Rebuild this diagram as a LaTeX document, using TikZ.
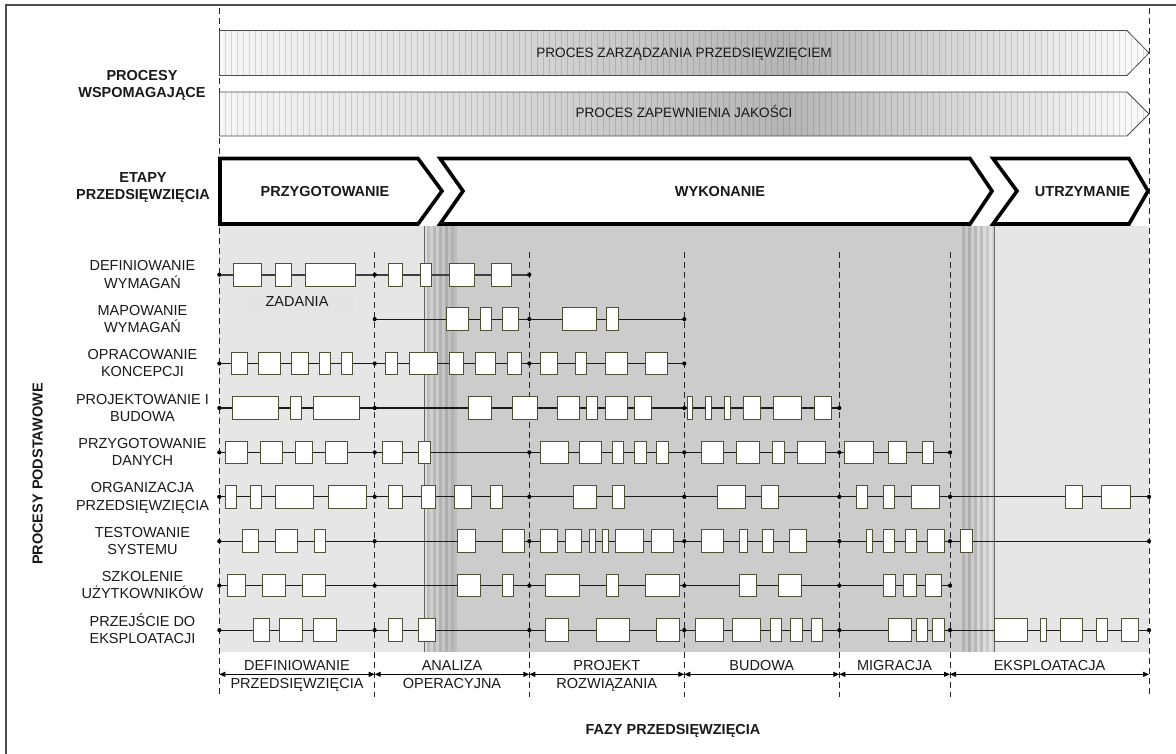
\documentclass[tikz,border=0pt]{standalone}
\usepackage{fontspec}
\setmainfont{Liberation Sans}
\usetikzlibrary{arrows.meta}
\definecolor{lightbg}{gray}{0.902}
\definecolor{darkbg}{gray}{0.80}
\definecolor{zadbg}{gray}{0.893}
\definecolor{boxedge}{RGB}{80,80,50}
\definecolor{txt}{gray}{0.1}
\definecolor{pgA}{gray}{0.965}
\definecolor{pgB}{gray}{0.71}
\definecolor{pgC}{gray}{0.99}
\pgfdeclarehorizontalshading{procgrad}{100bp}{color(0bp)=(pgA); color(25bp)=(pgA); color(35bp)=(pgA!72!pgB); color(55.5bp)=(pgB); color(75bp)=(pgC); color(100bp)=(pgC)}
\newcommand\taskrow[2]{\foreach \a/\b in {#2}{\draw[taskbox] (\a,{#1-11.3}) rectangle (\b,{#1+11.3});}}
\newcommand\rowdots[2]{\foreach \d in {#2}{\fill[black] (\d,#1) circle[radius=2.1pt];}}
\begin{document}
\begin{tikzpicture}[x=1pt,y=-1pt,
  lbl/.style={font=\fontsize{14.5}{17}\selectfont, text=txt, inner sep=0pt, anchor=base},
  boldlbl/.style={lbl, font=\fontsize{14.5}{17}\selectfont\bfseries},
  arrowlbl/.style={lbl, font=\fontsize{13.6}{16}\selectfont},
  taskbox/.style={fill=white, draw=boxedge, line width=0.9pt},
  rowline/.style={line width=1.1pt, draw=black!90},
  firstrow/.style={line width=1.8pt, draw=black!75},
  phaseline/.style={dash pattern=on 6pt off 4pt, line width=0.8pt, draw=black!85},
  stagebox/.style={draw=black, line width=3.6pt, fill=white, line join=miter},
  procarrow/.style={draw=black!70, line width=0.8pt},
  stripeline/.style={draw=black, draw opacity=0.13, line width=0.6pt},
  dimarrow/.style={{Triangle[length=6pt,width=5pt]}-{Triangle[length=6pt,width=5pt]}, line width=0.9pt, draw=black}
]
\useasboundingbox (0,0) rectangle (1176,753);
\fill[white] (0,0) rectangle (1176,753);
% frame
\draw[black!70, line width=1.6pt] (6,760) -- (6,5) -- (1180,5);

% background regions
\fill[lightbg] (219.3,226) rectangle (1149,652);
\fill[darkbg] (457,226) rectangle (962,652);
\foreach \i/\g in {0/14,1/26,2/18,3/28,4/20,5/30,6/22,7/32,8/24,9/30,10/26}
  \fill[black!\g] ({424.3+\i*3},226) rectangle ({427.4+\i*3},652);
\foreach \i/\g in {0/30,1/22,2/32,3/20,4/28,5/16,6/26,7/14,8/22,9/12,10/18}
  \fill[black!\g] ({961.7+\i*3},226) rectangle ({964.8+\i*3},652);
\draw[black!60, line width=0.8pt] (424.3,226) -- (424.3,652);
\draw[black!60, line width=0.8pt] (994.3,226) -- (994.3,652);
\fill[zadbg] (241.7,291.7) rectangle (352.7,313.3);
\node[lbl] (zad) at (297,306) {ZADANIA};

% dashed phase lines
\draw[phaseline] (219.3,8) -- (219.3,697);
\draw[phaseline] (1149,8) -- (1149,697);
\foreach \x in {374.7,529.3,684.3,839.3,950}
  \draw[phaseline] (\x,252) -- (\x,697);

% process arrows
\begin{scope}
\clip (219.5,30.5) -- (1127,30.5) -- (1149,53) -- (1127,75.5) -- (219.5,75.5) -- cycle;
\shade[shading=procgrad] (219.5,30.5) rectangle (1149,75.5);
\foreach \x in {225,231,...,1143} \draw[stripeline] (\x,30) -- (\x,76);
\end{scope}
\draw[procarrow] (219.5,30.5) -- (1127,30.5) -- (1149,53) -- (1127,75.5) -- (219.5,75.5) -- cycle;
\node[arrowlbl] (pz) at (684,57.3) {PROCES ZARZĄDZANIA PRZEDSIĘWZIĘCIEM};

\begin{scope}
\clip (219.5,92) -- (1127,92) -- (1149,114) -- (1127,136) -- (219.5,136) -- cycle;
\shade[shading=procgrad] (219.5,92) rectangle (1149,136);
\foreach \x in {225,231,...,1143} \draw[stripeline] (\x,91) -- (\x,137);
\end{scope}
\draw[procarrow] (219.5,92) -- (1127,92) -- (1149,114) -- (1127,136) -- (219.5,136) -- cycle;
\node[arrowlbl] (pj) at (684,117.3) {PROCES ZAPEWNIENIA JAKOŚCI};

% left headers
\node[boldlbl] (hp1) at (142,80) {PROCESY};
\node[boldlbl] (hp2) at (142,97) {WSPOMAGAJĄCE};
\node[boldlbl] (he1) at (143,182.7) {ETAPY};
\node[boldlbl] (he2) at (143,199.3) {PRZEDSIĘWZIĘCIA};
\node[boldlbl, rotate=90] (hpp) at (42.7,474) {PROCESY PODSTAWOWE};

% stage chevrons
\draw[stagebox] (220,158.5) -- (418,158.5) -- (442,191) -- (418,224) -- (220,224) -- cycle;
\draw[stagebox] (440,158.5) -- (970,158.5) -- (992,191) -- (970,224) -- (440,224) -- (463,191) -- cycle;
\draw[stagebox] (993,158.5) -- (1129,158.5) -- (1148,191) -- (1129,224) -- (993,224) -- (1017,191) -- cycle;
\node[boldlbl] (s1) at (325,196.7) {PRZYGOTOWANIE};
\node[boldlbl] (s2) at (720,196.7) {WYKONANIE};
\node[boldlbl] (s3) at (1082.5,196.7) {UTRZYMANIE};

% row labels
\foreach \n/\y/\la/\lb in {
  1/274.7/DEFINIOWANIE/WYMAGAŃ,
  2/319.1/MAPOWANIE/WYMAGAŃ,
  3/363.5/OPRACOWANIE/KONCEPCJI,
  4/408.0/PROJEKTOWANIE I/BUDOWA,
  5/452.4/PRZYGOTOWANIE/DANYCH,
  6/496.8/ORGANIZACJA/PRZEDSIĘWZIĘCIA,
  7/541.2/TESTOWANIE/SYSTEMU,
  8/585.6/SZKOLENIE/UŻYTKOWNIKÓW,
  9/630.1/PRZEJŚCIE DO/EKSPLOATACJI}{
  \node[lbl] (rl\n a) at (142.5,{\y-4}) {\la};
  \node[lbl] (rl\n b) at (142.5,{\y+13.3}) {\lb};
}

% row lines
\coordinate (r1s) at (219.3,274.7); \coordinate (r1e) at (529.3,274.7);
\coordinate (r2s) at (374.7,319.1); \coordinate (r2e) at (684.3,319.1);
\coordinate (r3s) at (219.3,363.5); \coordinate (r3e) at (684.3,363.5);
\coordinate (r4s) at (219.3,408.0); \coordinate (r4e) at (839.3,408.0);
\coordinate (r5s) at (219.3,452.4); \coordinate (r5e) at (950,452.4);
\coordinate (r6s) at (219.3,496.8); \coordinate (r6e) at (1149,496.8);
\coordinate (r7s) at (219.3,541.2); \coordinate (r7e) at (1149,541.2);
\coordinate (r8s) at (219.3,585.6); \coordinate (r8e) at (950,585.6);
\coordinate (r9s) at (219.3,630.1); \coordinate (r9e) at (1149,630.1);
\draw[firstrow] (r1s) -- (r1e);
\foreach \r in {2,...,9} \draw[rowline] (r\r s) -- (r\r e);

\rowdots{274.7}{219.3,374.7,529.3}
\rowdots{319.1}{374.7,529.3,684.3}
\rowdots{363.5}{219.3,374.7,529.3,684.3}
\rowdots{408.0}{219.3,374.7,684.3,839.3}
\rowdots{452.4}{219.3,374.7,529.3,684.3,839.3,950}
\rowdots{496.8}{219.3,374.7,529.3,684.3,839.3,950,1149}
\rowdots{541.2}{219.3,374.7,529.3,684.3,839.3,950,1149}
\rowdots{585.6}{219.3,374.7,529.3,684.3,839.3,950}
\rowdots{630.1}{219.3,374.7,529.3,684.3,839.3,950,1149}

% task boxes
\taskrow{274.7}{233.3/261, 275/291.7, 305.7/355, 388.3/402.3, 420.3/431.7, 449.3/474.3, 491.7/511.7}
\taskrow{319.1}{446.7/468.7, 480/491, 502/518.3, 562.7/596, 606.7/618.3}
\taskrow{363.5}{231/247.3, 258.3/280.7, 291.7/308.3, 319.3/330.3, 341.7/352.3, 385.3/397.3, 409.3/437.3, 449.3/463, 475/495.7, 507.3/521.3, 540.3/557.3, 575.7/586.7, 605/627.3, 645.7/667.7}
\taskrow{408.0}{232.3/278.3, 290.7/301.7, 313.3/359, 468.3/491, 512.7/537.7, 557.3/579.3, 586.7/597.3, 605/627.3, 634.3/651.7, 687.3/692.7, 705.7/711.7, 724.3/730.3, 743.3/760.7, 773.3/801.7, 814.3/831.3}
\taskrow{452.4}{225/247.3, 260.3/282.7, 295.3/312, 325/347.3, 382.7/402.7, 418.7/430.3, 540/568.3, 579.3/601.3, 612.3/623.7, 634.3/646, 656.7/668, 701/723.3, 736.7/759, 772.7/784.3, 797.3/825.7, 844.3/873, 888.7/906, 922/933.3}
\taskrow{496.8}{225/236.7, 250.3/261.7, 275/313.7, 328.3/366.3, 388.3/402.7, 421.7/435.7, 454.7/471.7, 490.7/502, 573/596, 612.3/624.3, 717.7/745.3, 761.7/778.3, 856/867, 883.3/894.7, 911/939, 1065.7/1082.7, 1101.7/1130}
\taskrow{541.2}{242.3/258.7, 275/297.3, 314/325, 457.7/475.3, 502/524, 540.7/557.3, 565/581.7, 589.3/595, 602.3/608.7, 615.7/643.3, 651.7/673.7, 701/723.3, 739/747.3, 762.7/773.7, 789.3/806.7, 866.7/872.3, 883.3/894.7, 905.7/916.7, 927.3/944.3, 960.7/972.3}
\taskrow{585.6}{227.7/245.7, 262.7/285, 302.7/325, 457.7/480.7, 502/513.3, 545.7/579.3, 606.7/618.3, 645.7/679.3, 739/756.7, 778.3/801.7, 883.3/895.3, 903.7/916, 925.3/941.7}
\taskrow{630.1}{253.3/269.3, 279.3/302.7, 313.3/336, 388.3/402.7, 418.7/435.7, 545.7/568.3, 596/629.3, 656.7/679.3, 695.3/723.3, 732.7/760.3, 770.3/781.7, 790.7/802.3, 811.3/822.7, 888.7/911, 916.7/927.7, 932.7/944.3, 994.3/1027.7, 1040.7/1046.7, 1060.3/1082.7, 1096/1107.3, 1121/1138.3}

% phase dimension arrows
\coordinate (a0) at (219.3,674.3);
\coordinate (a1) at (374.7,674.3);
\coordinate (a2) at (529.3,674.3);
\coordinate (a3) at (684.3,674.3);
\coordinate (a4) at (839.3,674.3);
\coordinate (a5) at (950,674.3);
\coordinate (a6) at (1149,674.3);
\draw[dimarrow] (a0) -- (a1);
\draw[dimarrow] (a1) -- (a2);
\draw[dimarrow] (a2) -- (a3);
\draw[dimarrow] (a3) -- (a4);
\draw[dimarrow] (a4) -- (a5);
\draw[dimarrow] (a5) -- (a6);

\node[lbl] (f1a) at (297,670.5) {DEFINIOWANIE};
\node[lbl] (f1b) at (297,688) {PRZEDSIĘWZIĘCIA};
\node[lbl] (f2a) at (452,670.5) {ANALIZA};
\node[lbl] (f2b) at (452,688) {OPERACYJNA};
\node[lbl] (f3a) at (606.8,670.5) {PROJEKT};
\node[lbl] (f3b) at (606.8,688) {ROZWIĄZANIA};
\node[lbl] (f4) at (761.8,670.5) {BUDOWA};
\node[lbl] (f5) at (894.5,670.5) {MIGRACJA};
\node[lbl] (f6) at (1049.5,670.5) {EKSPLOATACJA};
\node[boldlbl] (fz) at (673,734.3) {FAZY PRZEDSIĘWZIĘCIA};
\end{tikzpicture}
\end{document}
